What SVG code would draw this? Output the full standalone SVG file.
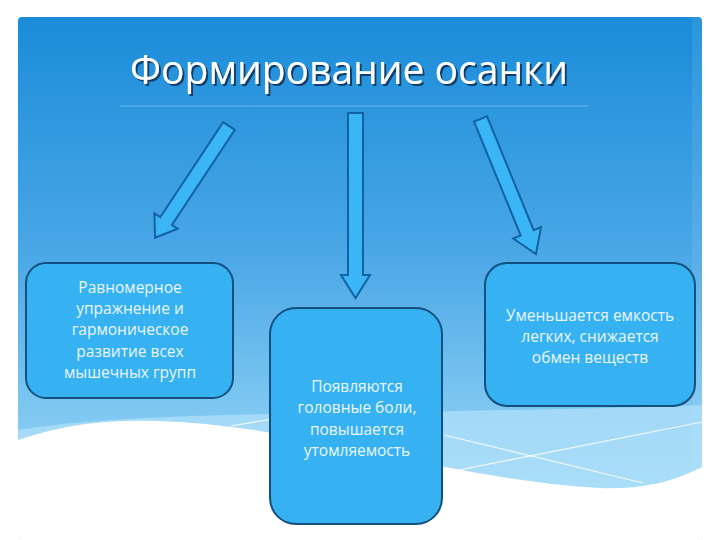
<svg xmlns="http://www.w3.org/2000/svg" width="720" height="540" viewBox="0 0 720 540">
<defs>
<linearGradient id="bg" x1="0" y1="0" x2="0" y2="1">
<stop offset="0" stop-color="#1a8cd9"/>
<stop offset="0.45" stop-color="#4aa7e6"/>
<stop offset="0.8" stop-color="#86ccf3"/>
<stop offset="1" stop-color="#a6dcf8"/>
</linearGradient>
<clipPath id="panel"><rect x="18" y="17" width="684" height="523" rx="4"/></clipPath>
<filter id="shadow" x="-5%" y="-20%" width="110%" height="150%">
<feDropShadow dx="2" dy="2" stdDeviation="0.6" flood-color="#0d3a66" flood-opacity="0.95"/>
</filter>
</defs>
<style>
.box{fill:#36b2f2;stroke:#14507f;stroke-width:2}
.arr{fill:#3ab5f5;stroke:#1262a3;stroke-width:2;stroke-linejoin:miter}
.t{font-family:"Open Sans","Liberation Sans",sans-serif;font-size:15.5px;fill:#eaf6ff;text-anchor:middle}
.title{font-family:"Open Sans","Liberation Sans",sans-serif;font-size:40px;text-anchor:middle;fill:#ffffff}
.wl{stroke:#ffffff;stroke-width:1.2;fill:none;opacity:0.85}
</style>
<rect width="720" height="540" fill="#ffffff"/>
<g id="background" clip-path="url(#panel)">
<rect x="18" y="17" width="684" height="523" fill="url(#bg)"/>
<rect x="692" y="17" width="10" height="523" fill="#ffffff" opacity="0.08"/>
<path d="M18,430 C150,408 400,416 702,405 L702,540 L18,540 Z" fill="#b2e1fa" opacity="0.7"/>
<path d="M18,440 C60,426 100,419 160,421 C300,425 450,480 600,488 C650,490 680,478 702,467 L702,540 L18,540 Z" fill="#ffffff"/>
<line class="wl" x1="444" y1="435" x2="643" y2="483"/>
<line class="wl" x1="444" y1="473" x2="702" y2="422"/>
<line class="wl" x1="231" y1="426" x2="273" y2="419"/>
</g>
<g id="title">
<line x1="120" y1="106" x2="588" y2="106" stroke="#7cc6f0" stroke-width="1" opacity="0.7"/>
<text class="title" x="349" y="84" filter="url(#shadow)" textLength="438" lengthAdjust="spacingAndGlyphs">Формирование осанки</text>
</g>
<g id="connectors">
<polygon class="arr" transform="translate(229,126) rotate(33.5)" points="-7,0 7,0 7,114 14,114 0,134 -14,114 -7,114"/>
<polygon class="arr" points="348,113 363,113 363,275 370,275 355.5,298 341,275 348,275"/>
<polygon class="arr" transform="translate(480.5,119) rotate(-22.3)" points="-7,0 7,0 7,123 15,123 0,146 -15,123 -7,123"/>
</g>
<g id="node-left">
<rect class="box" x="26" y="263" width="207" height="135" rx="20"/>
<text class="t" x="130" y="293">Равномерное</text>
<text class="t" x="130" y="314">упражнение и</text>
<text class="t" x="130" y="335">гармоническое</text>
<text class="t" x="130" y="357">развитие всех</text>
<text class="t" x="130" y="378">мышечных групп</text>
</g>
<g id="node-center">
<rect class="box" x="270" y="308" width="172" height="216" rx="26"/>
<text class="t" x="357" y="392">Появляются</text>
<text class="t" x="357" y="413">головные боли,</text>
<text class="t" x="357" y="435">повышается</text>
<text class="t" x="357" y="456">утомляемость</text>
</g>
<g id="node-right">
<rect class="box" x="485" y="263" width="210" height="143" rx="22"/>
<text class="t" x="590" y="321">Уменьшается емкость</text>
<text class="t" x="590" y="342">легких, снижается</text>
<text class="t" x="590" y="363">обмен веществ</text>
</g>
</svg>
